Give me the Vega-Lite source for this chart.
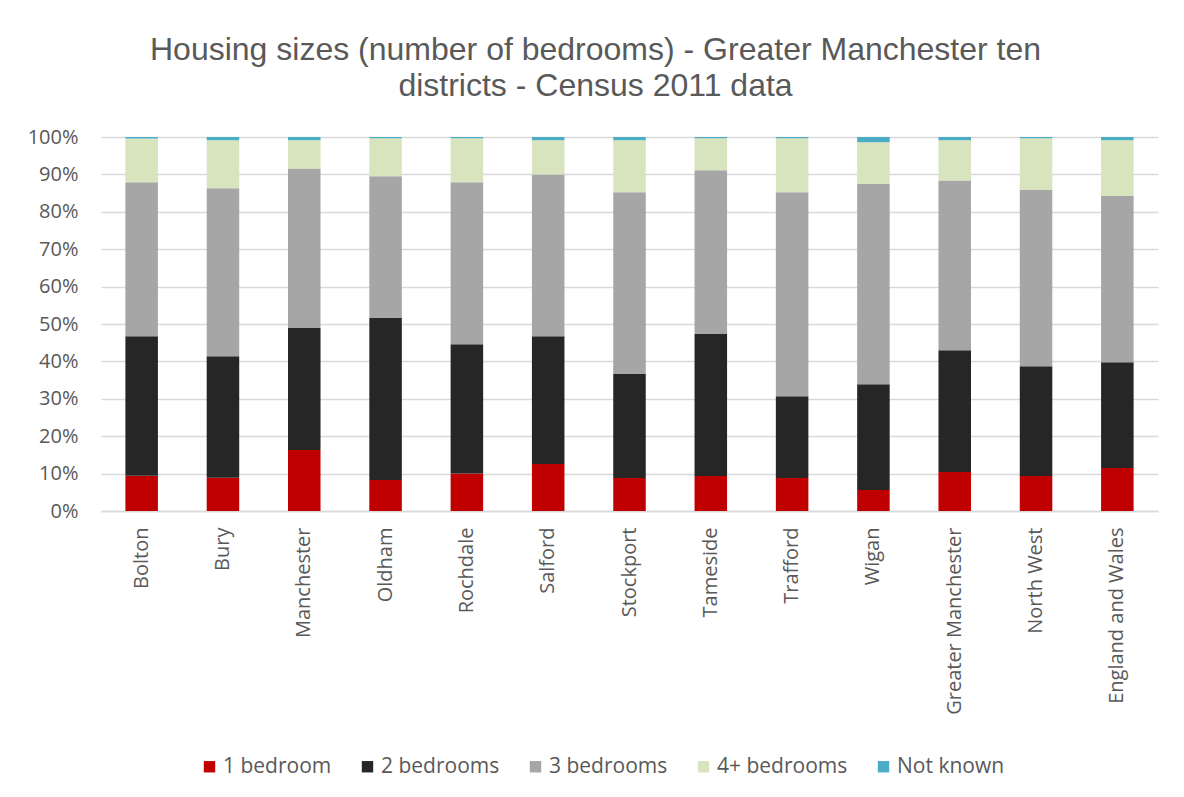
{
  "$schema": "https://vega.github.io/schema/vega-lite/v6.json",
  "autosize": {"type": "none"},
  "padding": {"left": 101, "top": 137, "right": 26, "bottom": 286},
  "width": 1057,
  "height": 374,
  "background": "white",
  "title": {
    "text": ["Housing sizes (number of bedrooms) - Greater Manchester ten", "districts - Census 2011 data"],
    "font": "Liberation Sans",
    "fontSize": 32,
    "fontWeight": "normal",
    "lineHeight": 36,
    "color": "#595959",
    "anchor": "middle",
    "frame": "group",
    "dx": -34,
    "offset": 24
  },
  "data": {
    "values": [
      {"area": "Bolton", "1 bedroom": 9.4, "2 bedrooms": 37.3, "3 bedrooms": 41.2, "4+ bedrooms": 11.7, "Not known": 0.4},
      {"area": "Bury", "1 bedroom": 8.9, "2 bedrooms": 32.5, "3 bedrooms": 44.9, "4+ bedrooms": 12.8, "Not known": 0.9},
      {"area": "Manchester", "1 bedroom": 16.3, "2 bedrooms": 32.6, "3 bedrooms": 42.7, "4+ bedrooms": 7.5, "Not known": 0.9},
      {"area": "Oldham", "1 bedroom": 8.3, "2 bedrooms": 43.3, "3 bedrooms": 37.9, "4+ bedrooms": 10.15, "Not known": 0.35},
      {"area": "Rochdale", "1 bedroom": 10.0, "2 bedrooms": 34.6, "3 bedrooms": 43.3, "4+ bedrooms": 11.75, "Not known": 0.35},
      {"area": "Salford", "1 bedroom": 12.6, "2 bedrooms": 34.15, "3 bedrooms": 43.25, "4+ bedrooms": 9.1, "Not known": 0.9},
      {"area": "Stockport", "1 bedroom": 8.8, "2 bedrooms": 27.8, "3 bedrooms": 48.6, "4+ bedrooms": 13.9, "Not known": 0.9},
      {"area": "Tameside", "1 bedroom": 9.35, "2 bedrooms": 37.95, "3 bedrooms": 43.8, "4+ bedrooms": 8.55, "Not known": 0.35},
      {"area": "Trafford", "1 bedroom": 8.8, "2 bedrooms": 21.9, "3 bedrooms": 54.5, "4+ bedrooms": 14.45, "Not known": 0.35},
      {"area": "Wigan", "1 bedroom": 5.6, "2 bedrooms": 28.3, "3 bedrooms": 53.5, "4+ bedrooms": 11.2, "Not known": 1.4},
      {"area": "Greater Manchester", "1 bedroom": 10.4, "2 bedrooms": 32.6, "3 bedrooms": 45.4, "4+ bedrooms": 10.7, "Not known": 0.9},
      {"area": "North West", "1 bedroom": 9.35, "2 bedrooms": 29.35, "3 bedrooms": 47.1, "4+ bedrooms": 13.85, "Not known": 0.35},
      {"area": "England and Wales", "1 bedroom": 11.5, "2 bedrooms": 28.3, "3 bedrooms": 44.4, "4+ bedrooms": 14.9, "Not known": 0.9}
    ]
  },
  "transform": [
    {"fold": ["1 bedroom", "2 bedrooms", "3 bedrooms", "4+ bedrooms", "Not known"], "as": ["size", "pct"]}
  ],
  "mark": {"type": "bar"},
  "encoding": {
    "x": {
      "field": "area",
      "type": "nominal",
      "sort": null,
      "title": null,
      "scale": {"paddingInner": 0.6, "paddingOuter": 0.3},
      "axis": {
        "labelAngle": -90,
        "labelFont": "Open Sans",
        "labelFontSize": 20,
        "labelColor": "#595959",
        "labelPadding": 16,
        "ticks": false,
        "domainColor": "#d9d9d9",
        "domainWidth": 1.5,
        "grid": false,
        "labelLimit": 300
      }
    },
    "y": {
      "field": "pct",
      "type": "quantitative",
      "stack": "normalize",
      "title": null,
      "scale": {"domain": [0, 1]},
      "axis": {
        "format": "%",
        "values": [0, 0.1, 0.2, 0.3, 0.4, 0.5, 0.6, 0.7, 0.8, 0.9, 1],
        "labelFont": "Open Sans",
        "labelFontSize": 20,
        "labelColor": "#595959",
        "labelPadding": 23,
        "ticks": false,
        "domain": false,
        "gridColor": "#d9d9d9",
        "gridWidth": 1.5
      }
    },
    "order": {"field": "size", "type": "nominal", "sort": "ascending"},
    "color": {
      "field": "size",
      "type": "nominal",
      "title": null,
      "scale": {
        "domain": ["1 bedroom", "2 bedrooms", "3 bedrooms", "4+ bedrooms", "Not known"],
        "range": ["#c00000", "#262626", "#a6a6a6", "#d8e4bd", "#4bacc6"]
      },
      "legend": {
        "orient": "none",
        "legendX": 98,
        "legendY": 619,
        "direction": "horizontal",
        "symbolType": "square",
        "symbolSize": 130,
        "symbolStrokeWidth": 0,
        "labelFont": "Open Sans",
        "labelFontSize": 21,
        "labelColor": "#595959",
        "labelOffset": 3,
        "columnPadding": 25
      }
    }
  },
  "config": {
    "view": {"stroke": null}
  }
}
